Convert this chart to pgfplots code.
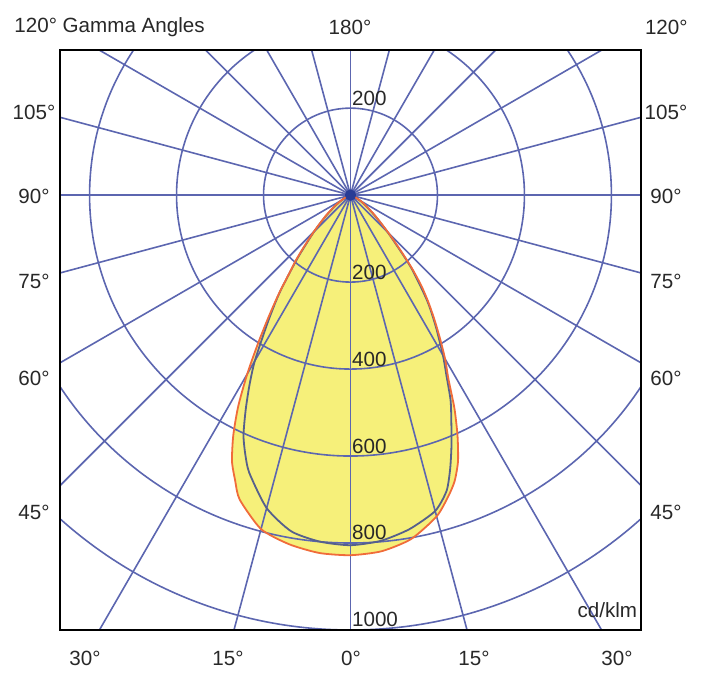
\documentclass[border=0pt]{standalone}
\usepackage{fontspec}
\setmainfont{Liberation Sans}
\usepackage{pgfplots}
\usepackage{pgfplotstable}
\pgfplotsset{compat=1.18}
\definecolor{gridblue}{RGB}{92,102,176}
\definecolor{fillyellow}{RGB}{246,240,122}
\definecolor{curveorange}{RGB}{240,108,58}
\definecolor{curvedark}{RGB}{86,96,140}
\definecolor{centerblue}{RGB}{40,60,150}
\definecolor{txt}{RGB}{40,40,40}

% C0-C180 plane (angle in data cs=polar, intensity cd/klm)
\pgfplotstableread{
ang I
-180 0
-170 2
-160 8
-150 25
-145 45
-140 75
-135 120
-132 160
-130 195
-128 230
-126 280
-124 335
-122 400
-120 475
-118 550
-116 615
-114 670
-112 708
-110 745
-105 795
-100 815
-95 826
-90 828
-85 822
-80 803
-75 765
-72 728
-70 700
-68 660
-66 605
-64 545
-62 480
-60 435
-58 388
-56 345
-54 305
-52 265
-50 220
-48 175
-45 125
-40 75
-35 45
-30 28
-20 8
-10 2
0 0
}\planeA

% C90-C270 plane
\pgfplotstableread{
ang I
-180 0
-170 2
-160 7
-150 24
-145 42
-140 72
-135 118
-130 190
-126 278
-123 350
-120 440
-118 495
-116 550
-114 605
-112 645
-110 680
-105 745
-100 785
-95 800
-90 805
-85 798
-80 780
-75 752
-72 715
-70 670
-68 620
-66 570
-64 525
-62 470
-60 425
-57 360
-54 300
-50 215
-45 122
-40 72
-35 43
-30 26
-20 7
-10 2
0 0
}\planeB

\begin{document}
\begin{tikzpicture}[font=\fontsize{10.3}{12}\selectfont, every node/.style={text=txt}]
\useasboundingbox (0,0) rectangle (350.5pt,337.5pt);
\begin{axis}[
  at={(30pt,22.5pt)}, anchor=south west,
  scale only axis, width=290.5pt, height=290pt,
  xmin=-668, xmax=668, ymin=-1000, ymax=333.7,
  xtick=\empty, ytick=\empty,
  axis line style={black, line width=1.2pt},
  axis on top,
]
\addplot[fill=fillyellow, draw=none, data cs=polar, smooth, tension=0.4] table[x=ang, y=I] {\planeA};
\draw[gridblue, line width=0.8pt] (axis cs:0,0) circle[radius=200];
\draw[gridblue, line width=0.8pt] (axis cs:0,0) circle[radius=400];
\draw[gridblue, line width=0.8pt] (axis cs:0,0) circle[radius=600];
\draw[gridblue, line width=0.8pt] (axis cs:0,0) circle[radius=800];
\draw[gridblue, line width=0.8pt] (axis cs:0,0) circle[radius=1000];
\pgfplotsinvokeforeach{0,15,...,345}{
  \draw[gridblue, line width=0.8pt] (axis cs:0,0) -- (axis cs:{1800*cos(#1)},{1800*sin(#1)});
}
\addplot[curvedark, line width=0.9pt, data cs=polar, smooth, tension=0.4] table[x=ang, y=I] {\planeB};
\addplot[curveorange, line width=0.9pt, data cs=polar, smooth, tension=0.4] table[x=ang, y=I] {\planeA};
\addplot[only marks, mark=*, mark size=2.6pt, color=centerblue] coordinates {(0,0)};
\node[anchor=base west, inner sep=0pt, xshift=0.6pt] at (axis cs:0,207) {200};
\node[anchor=base west, inner sep=0pt, xshift=0.6pt] at (axis cs:0,-193) {200};
\node[anchor=base west, inner sep=0pt, xshift=0.6pt] at (axis cs:0,-393) {400};
\node[anchor=base west, inner sep=0pt, xshift=0.6pt] at (axis cs:0,-593) {600};
\node[anchor=base west, inner sep=0pt, xshift=0.6pt] at (axis cs:0,-793) {800};
\node[anchor=base west, inner sep=0pt, xshift=0.6pt] at (axis cs:0,-993) {1000};
\node[anchor=base east, inner sep=0pt] at (axis cs:660,-972) {cd/klm};
\end{axis}
% outer angle labels
\node[anchor=west, inner sep=0pt] at (7pt,324pt) {120° Gamma Angles};
\node[inner sep=0pt] at (175pt,324pt) {180°};
\node[anchor=east, inner sep=0pt] at (344pt,324pt) {120°};
\foreach \lab/\yy in {105°/281.5, 90°/239.5, 75°/197, 60°/148.5, 45°/81.5}{
  \node[inner sep=0pt] at (17pt,\yy pt) {\lab};
  \node[inner sep=0pt] at (333pt,\yy pt) {\lab};
}
\foreach \lab/\xx in {30°/42.5, 15°/114, 0°/175.5, 15°/237, 30°/308.5}{
  \node[inner sep=0pt] at (\xx pt,8.5pt) {\lab};
}
\end{tikzpicture}
\end{document}
